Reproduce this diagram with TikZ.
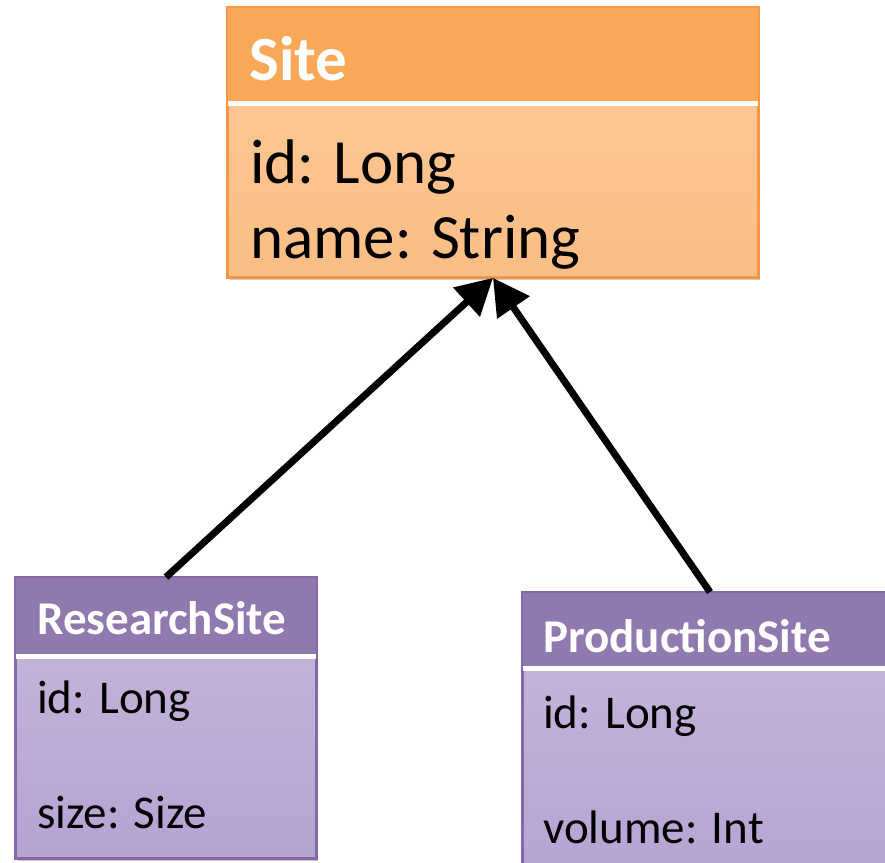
\documentclass[tikz,border=0pt]{standalone}
\usepackage{fontspec}
\setmainfont{Carlito}
\usetikzlibrary{arrows.meta,shadows,calc}

% palette
\definecolor{siteHead}{HTML}{F9A857}
\definecolor{siteBodyTop}{HTML}{FDCA9A}
\definecolor{siteBodyBot}{HTML}{FBBE84}
\definecolor{siteEdge}{HTML}{F79646}
\definecolor{subHead}{HTML}{8F79AE}
\definecolor{subBodyTop}{HTML}{C7B9DC}
\definecolor{subBodyBot}{HTML}{B5A3D2}
\definecolor{subEdge}{HTML}{8468AA}

\newcommand{\bigtext}{\fontsize{63}{75}\selectfont}
\newcommand{\smalltext}{\fontsize{47}{56}\selectfont}

\tikzset{
  classbox/.style={rectangle, inner sep=0pt, draw, line width=1.8pt,
    drop shadow={shadow xshift=2pt, shadow yshift=-3pt, opacity=0.35, fill=black!60}},
  sitebox/.style={classbox, draw=siteEdge, top color=siteBodyTop, bottom color=siteBodyBot},
  subbox/.style={classbox, draw=subEdge, top color=subBodyTop, bottom color=subBodyBot},
  label/.style={anchor=base west, inner sep=0pt, text=black},
  title/.style={anchor=base west, inner sep=0pt, text=white, font=\bfseries},
  inherit/.style={line width=7pt, line cap=butt, -{Triangle[length=36pt,width=38pt]}},
}

\begin{document}
\begin{tikzpicture}[x=1pt, y=-1pt]
  \clip (0,0) rectangle (885,862);

  % ---- Site ----
  \node[sitebox, minimum width=530pt, minimum height=269pt] (site) at (493,142.5) {};
  \fill[siteHead] (site.north west) rectangle ($(site.north east)+(0,94)$);
  \fill[white] ($(site.north west)+(0,94)$) rectangle ($(site.north east)+(0,99)$);
  \draw[siteEdge, line width=1.8pt] (site.north west) rectangle (site.south east);
  \node[title, font=\bigtext\bfseries] (siteTitle) at (249,80) {Site};
  \node[label, font=\bigtext] (siteId) at (250,183) {id: Long};
  \node[label, font=\bigtext] (siteName) at (250,258) {name: String};

  % ---- ResearchSite ----
  \node[subbox, minimum width=300pt, minimum height=280pt] (research) at (166,718) {};
  \fill[subHead] (research.north west) rectangle ($(research.north east)+(0,77)$);
  \fill[white] ($(research.north west)+(0,77)$) rectangle ($(research.north east)+(0,82)$);
  \draw[subEdge, line width=1.8pt] (research.north west) rectangle (research.south east);
  \node[title, font=\smalltext\bfseries] (researchTitle) at (37,634) {ResearchSite};
  \node[label, font=\smalltext] (researchId) at (37,713) {id: Long};
  \node[label, font=\smalltext] (researchSize) at (37,828) {size: Size};

  % ---- ProductionSite ----
  \node[subbox, minimum width=374pt, minimum height=290pt] (production) at (710,738) {};
  \fill[subHead] (production.north west) rectangle ($(production.north east)+(0,74)$);
  \fill[white] ($(production.north west)+(0,74)$) rectangle ($(production.north east)+(0,79)$);
  \draw[subEdge, line width=1.8pt] (production.north west) rectangle (production.south east);
  \node[title, font=\smalltext\bfseries] (productionTitle) at (543,652) {ProductionSite};
  \node[label, font=\smalltext] (productionId) at (543,728) {id: Long};
  \node[label, font=\smalltext] (productionVolume) at (543,843) {volume: Int};

  % ---- generalisation arrows ----
  \draw[inherit] (research.north) -- (site.south);
  \draw[inherit] (production.north) -- (site.south);
\end{tikzpicture}
\end{document}
